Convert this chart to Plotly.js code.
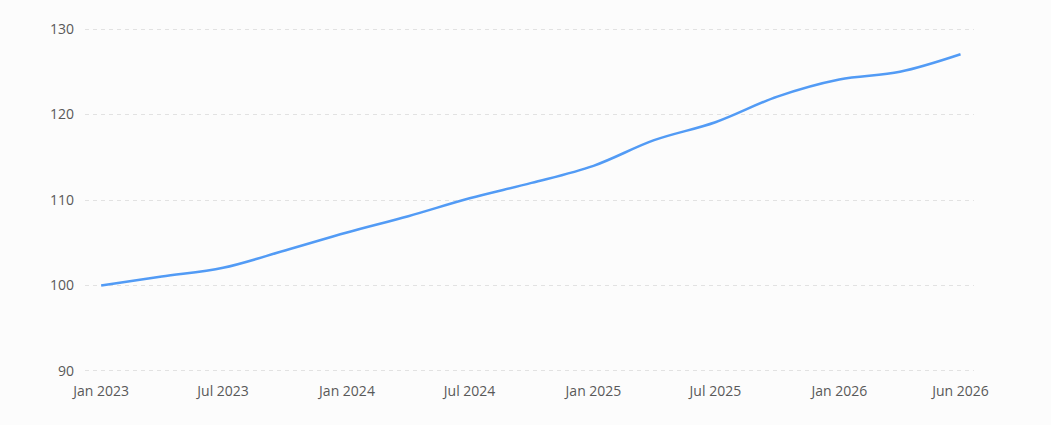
<!DOCTYPE html>
<html>
<head>
<meta charset="utf-8">
<script src="https://cdn.plot.ly/plotly-3.0.1.min.js"></script>
<style>
  html, body { margin: 0; padding: 0; background: #fcfcfc; }
  #chart { width: 1051px; height: 425px; }
</style>
</head>
<body>
<div id="chart"></div>
<script>
// Data (quarterly observations)
const dates = [
  "2023-01-01", "2023-04-01", "2023-07-01", "2023-10-01",
  "2024-01-01", "2024-04-01", "2024-07-01", "2024-10-01",
  "2025-01-01", "2025-04-01", "2025-07-01", "2025-10-01",
  "2026-01-01", "2026-04-01", "2026-06-30"
];
const values = [
  100.0, 101.05, 102.07, 104.1,
  106.2, 108.1, 110.2, 112.0,
  114.0, 117.0, 119.1, 122.1,
  124.1, 125.0, 127.05
];
const tickDates = ["2023-01-01", "2023-07-01", "2024-01-01", "2024-07-01",
                   "2025-01-01", "2025-07-01", "2026-01-01", "2026-06-30"];
const tickLabels = ["Jan 2023", "Jul 2023", "Jan 2024", "Jul 2024",
                    "Jan 2025", "Jul 2025", "Jan 2026", "Jun 2026"];
const yTicks = [90, 100, 110, 120, 130];

const trace = {
  x: dates,
  y: values,
  type: "scatter",
  mode: "lines",
  line: { color: "#529bf5", width: 2.5, shape: "spline", smoothing: 1 },
  hoverinfo: "x+y"
};

const layout = {
  width: 1051,
  height: 425,
  margin: { l: 85, r: 77, t: 28, b: 53 },
  paper_bgcolor: "#fcfcfc",
  plot_bgcolor: "#fcfcfc",
  showlegend: false,
  font: { family: "Open Sans, sans-serif", size: 14, color: "#595959" },
  xaxis: {
    type: "date",
    range: ["2022-12-08", "2026-07-20"],
    tickvals: tickDates,
    ticktext: tickLabels,
    showgrid: false,
    zeroline: false,
    showline: false,
    ticks: "",
    ticklabelstandoff: 9
  },
  yaxis: {
    range: [89.88, 130.12],
    tickvals: yTicks,
    showgrid: true,
    gridcolor: "#e2e2e2",
    griddash: "4px,4px",
    gridwidth: 1,
    zeroline: false,
    showline: false,
    ticks: "",
    ticklabelstandoff: 10
  }
};

Plotly.newPlot("chart", [trace], layout, { displayModeBar: false, staticPlot: true });
</script>
</body>
</html>
